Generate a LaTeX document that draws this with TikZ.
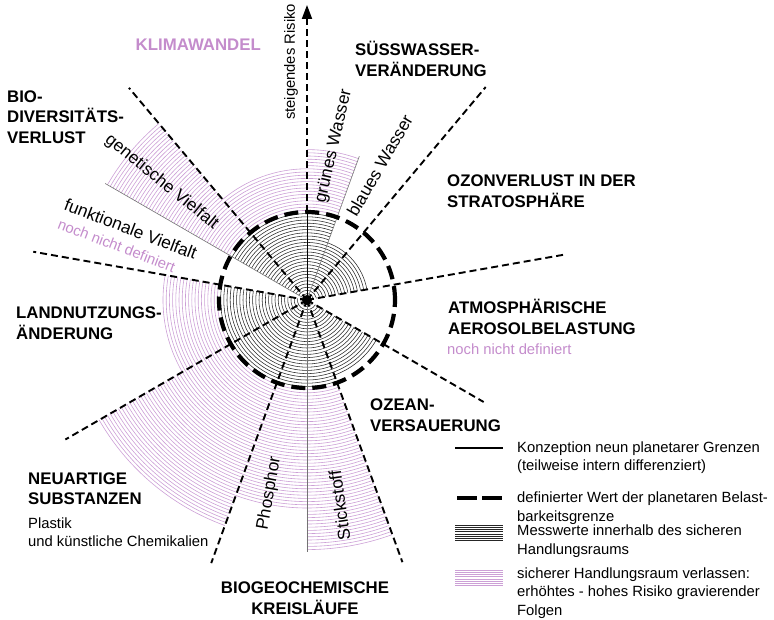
\documentclass[tikz,border=0pt]{standalone}
\usepackage{fontspec}
\setmainfont{Liberation Sans}
\usetikzlibrary{arrows.meta}

\definecolor{mauve}{RGB}{196,140,204}
\definecolor{mauvearc}{RGB}{204,160,214}

\begin{document}
\begin{tikzpicture}[x=1pt, y=1pt,
    title/.style={font=\fontsize{16.8}{20.5}\selectfont\bfseries, align=left, inner sep=0pt},
    plain/.style={font=\fontsize{14.8}{18.5}\selectfont, align=left, inner sep=0pt},
    sector/.style={font=\fontsize{17.3}{20}\selectfont, inner sep=0pt},
    safearc/.style={draw=black!85, line width=0.55pt},
    riskarc/.style={draw=mauvearc, line width=0.6pt},
    sectoredge/.style={draw=black!55, line width=0.6pt},
    spoke/.style={line width=1.9pt, dash pattern=on 7pt off 4pt},
    limit/.style={line width=4.2pt, dash pattern=on 14pt off 7pt},
    hub/.style={circle, fill, inner sep=0pt, minimum size=10pt}]
  \useasboundingbox (-307,-319) rectangle (467,300);
  \coordinate (O) at (0,0);

  % measured values inside the safe space
  \foreach \a/\b/\rr in {90/130/87, 130/150/87, 170/210/87, 210/250/87, 250/270/87,
                         270/290/87, 290/330/80.5, 10/70/61, 70/90/87}
    \foreach \r in {3.2,6.4,...,\rr}
      \draw[safearc] (\a:\r) arc[start angle=\a, end angle=\b, radius=\r pt];

  % safe space left
  \foreach \a/\b/\rr in {90/130/133, 130/150/233, 170/210/146, 210/250/240,
                         250/270/208, 270/290/252, 70/90/153}
    \foreach \r in {89.6,92.8,...,\rr}
      \draw[riskarc] (\a:\r) arc[start angle=\a, end angle=\b, radius=\r pt];

  \draw[sectoredge] (O) -- (150:233);
  \draw[sectoredge] (O) -- (70:153);
  \draw[sectoredge] (O) -- (270:252);
  \draw[line width=0.9pt] (O) -- (90:88);

  % boundaries between the nine sectors
  \foreach \a/\l in {130/277, 170/278, 210/279, 250/280, 290/279, 330/204, 10/262, 50/278}
    \draw[spoke] (O) -- (\a:\l);
  \draw[spoke, -{Triangle[length=14pt, width=10pt]}] (90:88) -- (90:295);

  \draw[limit] (O) circle[radius=88pt];
  \node[hub] (hub) at (O) {};

  % sector titles
  \node[title, text=mauve, anchor=east] (klima) at (-46,255) {KLIMAWANDEL};
  \node[title, anchor=west] (suess) at (48,241) {SÜSSWASSER-\\VERÄNDERUNG};
  \node[title, anchor=west] (ozon) at (140,109) {OZONVERLUST IN DER\\STRATOSPHÄRE};
  \node[title, anchor=west] (aero) at (141,-17) {ATMOSPHÄRISCHE\\AEROSOLBELASTUNG};
  \node[plain, text=mauve, anchor=west] (aeronote) at (140,-49) {noch nicht definiert};
  \node[title, anchor=west] (ozean) at (63,-115) {OZEAN-\\VERSAUERUNG};
  \node[title, align=center] (biogeo) at (-2,-298) {BIOGEOCHEMISCHE\\KREISLÄUFE};
  \node[title, anchor=west] (neu) at (-279,-188.5) {NEUARTIGE\\SUBSTANZEN};
  \node[plain, anchor=west] (plastik) at (-279,-232) {Plastik\\und künstliche Chemikalien};
  \node[title, anchor=west] (land) at (-291,-23) {LANDNUTZUNGS-\\ÄNDERUNG};
  \node[title, anchor=west] (bio) at (-300,183) {BIO-\\DIVERSITÄTS-\\VERLUST};

  % labels along the sectors
  \node[plain, rotate=90] (risiko) at (-16,238) {steigendes Risiko};
  \node[sector, rotate=77] (gruen) at (80:156) {grünes Wasser};
  \node[sector, rotate=60] (blau) at (61.6:153) {blaues Wasser};
  \node[sector, rotate=-39] (genet) at (141:187) {genetische Vielfalt};
  \node[sector, rotate=-21] (funkt) at (158:190) {funktionale Vielfalt};
  \node[plain, text=mauve, rotate=-21] (funktnote) at (164:198) {noch nicht definiert};
  \node[sector, rotate=80] (phos) at (259:197) {Phosphor};
  \node[sector, rotate=98] (stick) at (279:208) {Stickstoff};

  % legend
  \draw[line width=2pt] (148,-148) -- (196,-148);
  \draw[line width=4.4pt, dash pattern=on 20pt off 5pt] (150,-198) -- (195,-198);
  \foreach \y in {-225,-227.2,...,-242.5}
    \draw[safearc] (148,\y) -- (196,\y);
  \foreach \y in {-270,-272.2,...,-287.5}
    \draw[riskarc] (148,\y) -- (196,\y);
  \node[plain, anchor=west] (leg1) at (210,-157.5) {Konzeption neun planetarer Grenzen\\(teilweise intern differenziert)};
  \node[plain, anchor=west] (leg2) at (210,-208) {definierter Wert der planetaren Belast-\\barkeitsgrenze};
  \node[plain, anchor=west] (leg3) at (210,-241) {Messwerte innerhalb des sicheren\\Handlungsraums};
  \node[plain, anchor=west] (leg4) at (210,-293) {sicherer Handlungsraum verlassen:\\erhöhtes - hohes Risiko gravierender\\Folgen};
\end{tikzpicture}
\end{document}
